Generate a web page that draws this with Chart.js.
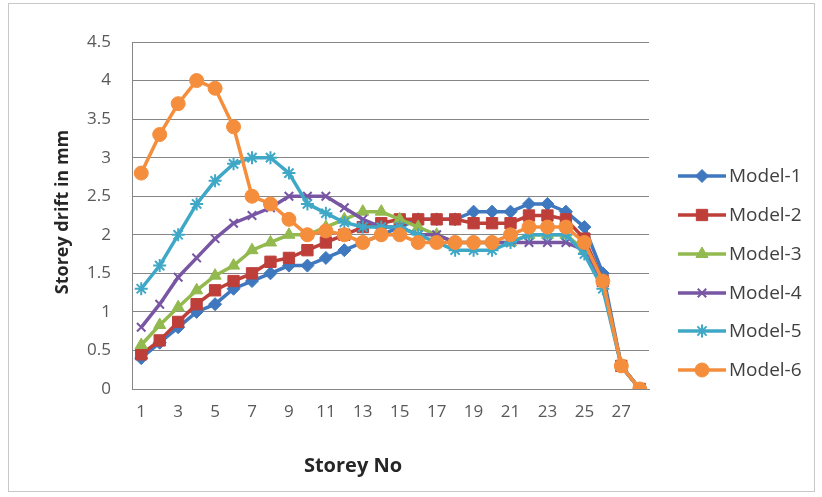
<!DOCTYPE html>
<html>
<head>
<meta charset="utf-8">
<script src="https://cdn.jsdelivr.net/npm/chart.js@4.4.1/dist/chart.umd.min.js"></script>
<style>
  html, body { margin: 0; padding: 0; background: #fff; }
  #wrap { position: relative; width: 822px; height: 497px; }
  canvas { display: block; }
</style>
</head>
<body>
<div id="wrap"><canvas id="c" width="822" height="497"></canvas></div>
<script>
// Storey numbers (x categories)
const storeys = ['1','2','3','4','5','6','7','8','9','10','11','12','13','14',
                 '15','16','17','18','19','20','21','22','23','24','25','26','27','28'];

// Storey drift (mm) for each model
const model1 = [0.4,0.6,0.8,1.0,1.1,1.3,1.4,1.5,1.6,1.6,1.7,1.8,1.9,2.0,2.1,2.2,2.2,2.2,2.3,2.3,2.3,2.4,2.4,2.3,2.1,1.5,0.3,0];
const model2 = [0.45,0.63,0.87,1.1,1.28,1.4,1.5,1.65,1.7,1.8,1.9,2.0,2.1,2.15,2.2,2.2,2.2,2.2,2.15,2.15,2.15,2.25,2.25,2.2,1.95,1.4,0.3,0];
const model3 = [0.57,0.83,1.06,1.28,1.47,1.6,1.8,1.9,2.0,2.0,2.1,2.2,2.3,2.3,2.2,2.1,2.0,1.9,1.9,1.9,1.9,2.0,2.0,2.0,1.8,1.4,0.3,0];
const model4 = [0.8,1.1,1.45,1.7,1.95,2.15,2.25,2.35,2.5,2.5,2.5,2.35,2.2,2.1,2.1,2.0,2.0,1.9,1.9,1.9,1.9,1.9,1.9,1.9,1.8,1.4,0.3,0];
const model5 = [1.3,1.6,2.0,2.4,2.7,2.92,3.0,3.0,2.8,2.4,2.28,2.16,2.1,2.1,2.1,2.0,1.9,1.8,1.8,1.8,1.9,2.0,2.0,2.0,1.75,1.3,0.3,0];
const model6 = [2.8,3.3,3.7,4.0,3.9,3.4,2.5,2.4,2.2,2.0,2.05,2.0,1.9,2.0,2.0,1.9,1.9,1.9,1.9,1.9,2.0,2.1,2.1,2.1,1.9,1.4,0.3,0];

const seriesNames = ['Model-1','Model-2','Model-3','Model-4','Model-5','Model-6'];
const seriesData  = [model1, model2, model3, model4, model5, model6];
const seriesColors = ['#3F78BE','#BE3F3A','#92BA4E','#7856A3','#3FA8C6','#F58E3C'];
const seriesMarkers = [
  { pointStyle: 'rectRot',  radius: 6.5 },
  { pointStyle: 'rect',     radius: 8 },
  { pointStyle: 'triangle', radius: 7 },
  { pointStyle: 'crossRot', radius: 6 },
  { pointStyle: 'star',     radius: 6.5 },
  { pointStyle: 'circle',   radius: 7 }
];

const yMin = 0, yMax = 4.5, yStep = 0.5;

const FONT = "'Open Sans', 'DejaVu Sans', sans-serif";

const datasets = seriesNames.map((name, i) => ({
  label: name,
  data: seriesData[i],
  borderColor: seriesColors[i],
  backgroundColor: seriesColors[i],
  pointBackgroundColor: seriesColors[i],
  pointBorderColor: seriesColors[i],
  pointBorderWidth: (seriesMarkers[i].pointStyle === 'crossRot' || seriesMarkers[i].pointStyle === 'star') ? 2 : 1,
  pointStyle: seriesMarkers[i].pointStyle,
  pointRadius: seriesMarkers[i].radius,
  borderWidth: 3.5,
  tension: 0,
  fill: false,
  order: seriesNames.length - i   // later models are painted on top
}));

// Axis titles and the side legend, painted onto the chart canvas
const decorations = {
  id: 'decorations',
  afterDraw(chart) {
    const ctx = chart.ctx;
    ctx.save();

    // outer frame
    ctx.strokeStyle = '#c8c8c8';
    ctx.lineWidth = 1;
    ctx.strokeRect(8.5, 3.5, 806, 488);

    // y axis title
    ctx.fillStyle = '#262626';
    ctx.font = "bold 18px " + FONT;
    ctx.textAlign = 'center';
    ctx.textBaseline = 'middle';
    ctx.save();
    ctx.translate(63, 212);
    ctx.rotate(-Math.PI / 2);
    ctx.fillText('Storey drift in mm', 0, 0);
    ctx.restore();

    // x axis title
    ctx.font = "bold 20px " + FONT;
    ctx.fillText('Storey No', 353, 466);

    // legend
    const ys = [176, 215, 254, 293, 331, 370];
    chart.data.datasets.forEach((ds, i) => {
      const y = ys[i];
      ctx.strokeStyle = ds.borderColor;
      ctx.lineWidth = 3.5;
      ctx.beginPath();
      ctx.moveTo(678, y);
      ctx.lineTo(726, y);
      ctx.stroke();
      ctx.fillStyle = ds.pointBackgroundColor;
      ctx.strokeStyle = ds.pointBorderColor;
      ctx.lineWidth = ds.pointBorderWidth;
      Chart.helpers.drawPoint(ctx, {
        pointStyle: ds.pointStyle,
        radius: ds.pointRadius,
        borderWidth: ds.pointBorderWidth,
        rotation: 0
      }, 702, y);
      ctx.fillStyle = '#404040';
      ctx.font = "19px " + FONT;
      ctx.textAlign = 'left';
      ctx.textBaseline = 'middle';
      ctx.fillText(ds.label, 729, y + 1);
    });

    ctx.restore();
  }
};

new Chart(document.getElementById('c'), {
  type: 'line',
  data: { labels: storeys, datasets },
  options: {
    responsive: false,
    animation: false,
    devicePixelRatio: 1,
    layout: { padding: { top: 42, right: 173, bottom: 0, left: 0 } },
    plugins: {
      legend: { display: false },
      tooltip: { enabled: false }
    },
    scales: {
      x: {
        type: 'category',
        offset: true,
        grid: { display: false, drawTicks: false },
        border: { display: true, color: '#868686', width: 1 },
        ticks: {
          autoSkip: false,
          maxRotation: 0,
          minRotation: 0,
          padding: 13,
          color: '#595959',
          font: { family: FONT, size: 17 },
          callback: function (value, index) {
            return index % 2 === 0 ? storeys[index] : '';
          }
        },
        afterFit(scale) { scale.height = 108; }
      },
      y: {
        min: yMin,
        max: yMax,
        grid: { color: '#868686', lineWidth: 1, drawTicks: false },
        border: { display: true, color: '#868686', width: 1 },
        ticks: {
          stepSize: yStep,
          padding: 21,
          color: '#595959',
          font: { family: FONT, size: 17 },
          callback: function (value) { return String(value); }
        },
        afterFit(scale) { scale.width = 132; }
      }
    }
  },
  plugins: [decorations]
});
</script>
</body>
</html>
